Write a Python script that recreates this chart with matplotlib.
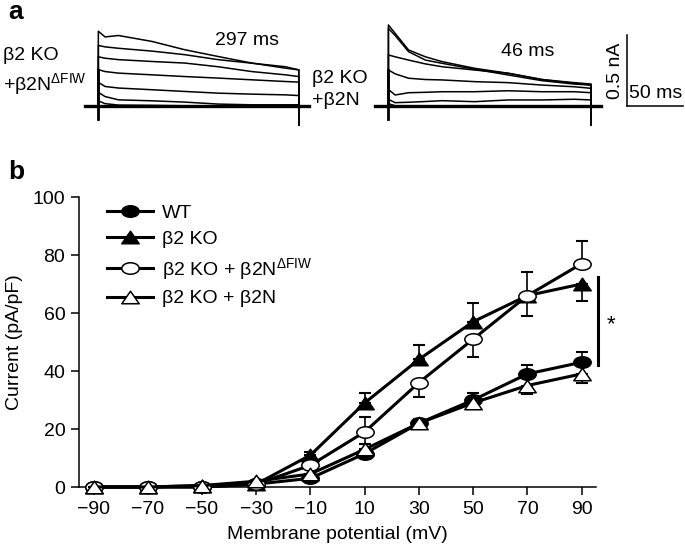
import matplotlib
matplotlib.use("Agg")
import matplotlib.pyplot as plt
from matplotlib.path import Path
import numpy as np

plt.rcParams['font.family'] = ['Liberation Sans', 'DejaVu Sans']
plt.rcParams['mathtext.fontset'] = 'custom'
plt.rcParams['mathtext.rm'] = 'Liberation Sans'
plt.rcParams['mathtext.it'] = 'Liberation Sans:italic'
plt.rcParams['mathtext.default'] = 'regular'

# ---- panel b data ----
voltage = [-90, -70, -50, -30, -10, 10, 30, 50, 70, 90]

wt = [0, 0, 0, 1, 3, 11.5, 22, 30, 39, 43]
wt_lo = [0, 0, 0, 0, 0, 0, 0, 0, 0, 0]
wt_hi = [0, 0, 0, 0, 0.5, 1, 1.5, 2.5, 3, 3.5]

ko = [0, 0, 0.5, 1, 11, 29, 44, 57, 66, 70]
ko_lo = [0, 0, 0, 0, 0, 0, 0, 0, 0, 6]
ko_hi = [0, 0, 0, 0, 1, 3.5, 5, 6.5, 8, 0]

dfiw = [0, 0, 0, 1, 7.5, 19, 36, 51, 66, 77]
dfiw_lo = [0, 0, 0, 0, 0.5, 4, 5, 6, 7, 0]
dfiw_hi = [0, 0, 0, 0, 0, 5, 0, 0, 0, 8]

b2n = [0, 0, 0.5, 2, 4.5, 13, 22, 29, 35, 39]
b2n_lo = [0, 0, 0, 0, 0.5, 1, 1.5, 2, 3, 3]
b2n_hi = [0, 0, 0, 0, 0, 0, 0, 0, 0, 0]

labels = ['WT', 'β2 KO', 'β2 KO + β2N$^{\\Delta FIW}$', 'β2 KO + β2N']

# ---- panel a data (ms, nA) ----
t_left = [0, 6, 18, 48, 77, 107, 137, 167, 179]
left_traces = [
    [0.53, 0.49, 0.50, 0.458, 0.40, 0.352, 0.306, 0.27, 0.258],
    [0.43, 0.42, 0.41, 0.39, 0.365, 0.33, 0.305, 0.28, 0.258],
    [0.35, 0.34, 0.33, 0.317, 0.306, 0.28, 0.246, 0.223, 0.211],
    [0.26, 0.246, 0.235, 0.223, 0.211, 0.2, 0.188, 0.176, 0.172],
    [0.17, 0.141, 0.13, 0.118, 0.106, 0.094, 0.087, 0.082, 0.077],
    [0.10, 0.07, 0.047, 0.04, 0.031, 0.017, 0.012, 0.012, 0.012],
    [0.04, 0.02, 0.01, 0.008, 0.005, 0.003, 0.0, 0.005, 0.005],
]
t_right = [0, 6, 18, 33, 48, 77, 107, 137, 166, 181]
right_traces = [
    [0.574, 0.515, 0.398, 0.35, 0.316, 0.269, 0.234, 0.19, 0.168, 0.158],
    [0.55, 0.50, 0.386, 0.327, 0.304, 0.262, 0.222, 0.182, 0.158, 0.151],
    [0.363, 0.35, 0.327, 0.30, 0.28, 0.257, 0.234, 0.19, 0.163, 0.151],
    [0.257, 0.23, 0.199, 0.19, 0.187, 0.175, 0.168, 0.151, 0.139, 0.128],
    [0.12, 0.081, 0.097, 0.10, 0.104, 0.104, 0.111, 0.104, 0.104, 0.097],
    [0.05, 0.027, 0.03, 0.035, 0.041, 0.034, 0.046, 0.046, 0.051, 0.046],
    [0.02, 0.005, 0.0, 0.003, 0.005, 0.0, 0.003, 0.0, 0.005, 0.0],
]
right_offset = 259
scale_t, scale_i = 50, 0.5

W, H = 685, 553
fig = plt.figure(figsize=(W / 100, H / 100), dpi=100)

# ---------- panel a ----------
ax_a = fig.add_axes([0, 1 - 130 / H, 1, 130 / H])
ax_a.set_xlim(-87.8, 523.8)
ax_a.set_ylim(-0.1655, 0.75)
ax_a.axis('off')

def draw_traces(ax, t, traces, off):
    tt = [off + x for x in t]
    for tr in traces:
        ax.plot([tt[0]] + tt + [tt[-1]], [0] + tr + [0], color='black', lw=1.1)
    ax.plot([off - 12, off + t[-1] + 9], [0, 0], color='black', lw=2.4)
    ax.plot([off, off], [-0.09, 0.26], color='black', lw=2.0)
    ax.plot([off + t[-1], off + t[-1]], [-0.13, 0.1], color='black', lw=1.4)

draw_traces(ax_a, t_left, left_traces, 0)
draw_traces(ax_a, t_right, right_traces, right_offset)

sb_x = 472
ax_a.plot([sb_x, sb_x], [0, scale_i], color='black', lw=1.1)
ax_a.plot([sb_x, sb_x + scale_t], [0, 0], color='black', lw=1.1)
ax_a.text(sb_x - 3, scale_i / 2, '0.5 nA', rotation=90, ha='right', va='center', fontsize=14)
ax_a.text(sb_x + 2, 0.03, '50 ms', ha='left', va='bottom', fontsize=14)

ax_a.text(132.8, 0.468, '297 ms', ha='center', va='center', fontsize=14)
ax_a.text(383.7, 0.384, '46 ms', ha='center', va='center', fontsize=14)
ax_a.text(-85, 0.243, 'β2 KO\n+β2N$^{\\Delta FIW}$', ha='left', va='center',
          fontsize=14, linespacing=1.35)
ax_a.text(190.8, 0.12, 'β2 KO\n+β2N', ha='left', va='center',
          fontsize=14, linespacing=1.35)

fig.text(8 / W, 1 - 12 / H, 'a', fontsize=19, fontweight='bold', ha='left', va='center')
fig.text(8 / W, 1 - 172 / H, 'b', fontsize=19, fontweight='bold', ha='left', va='center')

# ---------- panel b ----------
ax = fig.add_axes([79.2 / W, 1 - 487 / H, (596 - 79.2) / W, (487 - 197) / H])

ell = Path.unit_circle()
ell = Path(ell.vertices * np.array([1.0, 0.66]), ell.codes)
tri = Path([(-1, -0.72), (1, -0.72), (0, 0.72), (-1, -0.72)],
           [Path.MOVETO, Path.LINETO, Path.LINETO, Path.CLOSEPOLY])

series = [
    (wt, wt_lo, wt_hi, ell, 'black'),
    (ko, ko_lo, ko_hi, tri, 'black'),
    (dfiw, dfiw_lo, dfiw_hi, ell, 'white'),
    (b2n, b2n_lo, b2n_hi, tri, 'white'),
]
handles = []
for i, (vals, lo, hi, mk, fc) in enumerate(series):
    ax.errorbar(voltage, vals, yerr=[lo, hi], fmt='none', ecolor='black',
                elinewidth=1.2, capsize=4.3, capthick=1.5, zorder=2 + i, clip_on=False)
    ln, = ax.plot(voltage, vals, color='black', lw=2.2, marker=mk, markersize=12.5,
                  markerfacecolor=fc, markeredgecolor='black', markeredgewidth=1.1,
                  zorder=2.5 + i, clip_on=False)
    handles.append(ln)

ax.legend(handles, labels, loc='upper left', bbox_to_anchor=(0.053, 0.975),
          frameon=False, fontsize=14, handlelength=2.4, handletextpad=0.45,
          labelspacing=0.42, borderpad=0, borderaxespad=0)

# significance bar
ax.plot([96.2, 96.2], [42.2, 72.3], color='black', lw=2.2, clip_on=False)
ax.text(99.3, 56, '*', ha='left', va='center', fontsize=16)

ax.set_xlim(-95.3, 95.3)
ax.set_ylim(0, 100)
ax.set_xticks(voltage)
ax.set_xticklabels(['\u221290', '\u221270', '\u221250', '\u221230', '\u221210',
                    '10', '30', '50', '70', '90'])
ax.set_yticks([0, 20, 40, 60, 80, 100])
ax.tick_params(direction='out', length=6, width=1.1, labelsize=14, pad=4)
for s in ['top', 'right']:
    ax.spines[s].set_visible(False)
for s in ['left', 'bottom']:
    ax.spines[s].set_linewidth(1.1)
ax.set_xlabel('Membrane potential (mV)', fontsize=14, labelpad=6)
ax.set_ylabel('Current (pA/pF)', fontsize=14, labelpad=7)

fig.savefig('out.png', dpi=100)
